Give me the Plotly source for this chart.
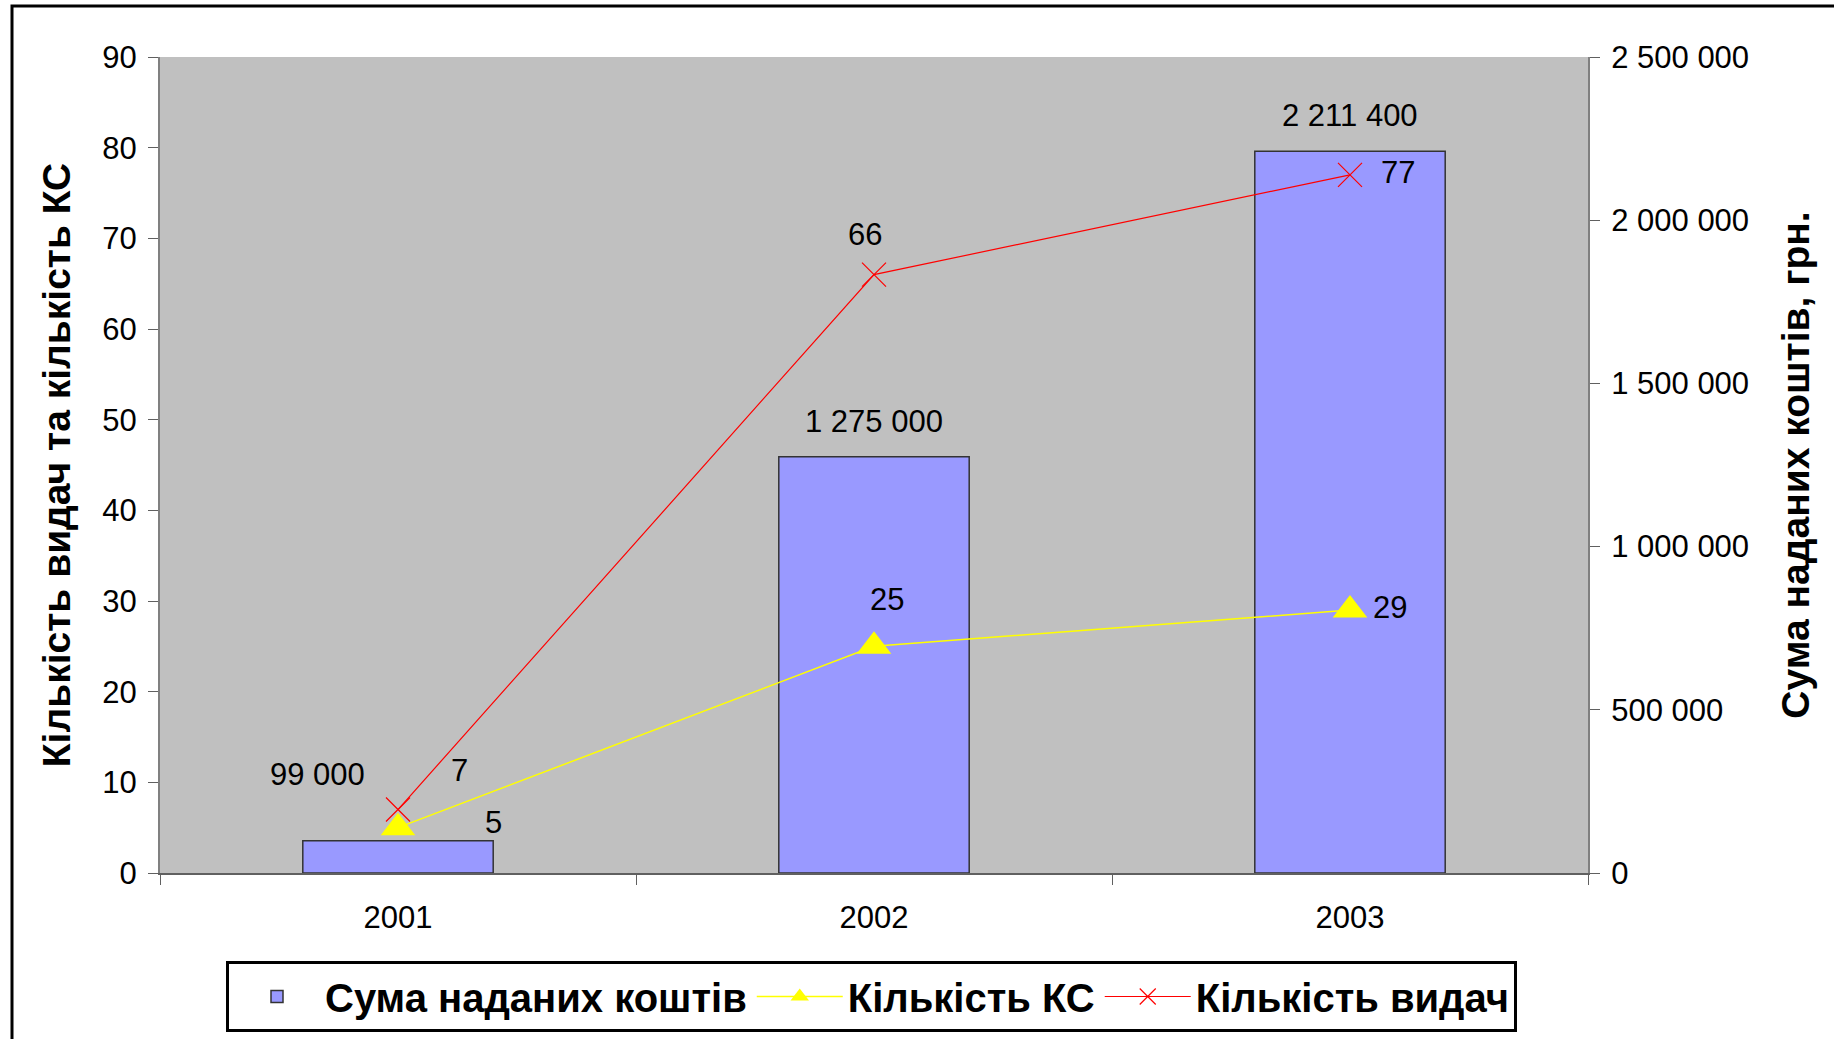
import plotly.graph_objects as go

years = ["2001", "2002", "2003"]
funds = [99000, 1275000, 2211400]          # Сума наданих коштів, грн.
ks_count = [5, 25, 29]                      # Кількість КС
issue_count = [7, 66, 77]                   # Кількість видач

series_names = ["Сума наданих коштів", "Кількість КС", "Кількість видач"]
left_title = "Кількість видач та кількість КС"
right_title = "Сума наданих коштів, грн."

W, H = 1834, 1039
L, R, T, B = 160, 1834 - 1588, 57, 1039 - 873

tick_font = dict(family="Liberation Sans, Arial, sans-serif", size=31, color="black")
bold_font = "Liberation Sans, Arial, sans-serif"

fig = go.Figure()
fig.add_trace(go.Bar(
    x=years, y=funds, name=series_names[0], yaxis="y",
    marker=dict(color="#9999FF", line=dict(color="#333333", width=1.5)),
))
fig.add_trace(go.Scatter(
    x=years, y=ks_count, name=series_names[1], yaxis="y2", mode="lines+markers",
    line=dict(color="#FFFF00", width=1.5),
    marker=dict(symbol="triangle-up", size=30, color="#FFFF00", line=dict(width=0)),
))
fig.add_trace(go.Scatter(
    x=years, y=issue_count, name=series_names[2], yaxis="y2", mode="lines+markers",
    line=dict(color="#FF0000", width=1.2),
    marker=dict(symbol="x-thin-open", size=24, color="#FF0000", line=dict(color="#FF0000", width=1.2)),
))

# data labels (offsets in px from each point)
bar_shifts = [(-81, 66), (0, 35), (0, 36)]
ks_shifts = [(95, 5), (13, 47), (40, 3)]
issue_shifts = [(61, 39), (-9, 40), (48, 2)]

def fmt(v):
    return f"{v:,}".replace(",", " ")

for i, (yv, (dx, dy)) in enumerate(zip(funds, bar_shifts)):
    fig.add_annotation(x=i, y=yv, xref="x", yref="y", text=fmt(yv), showarrow=False,
                       xshift=dx, yshift=dy, font=tick_font)
for i, (yv, (dx, dy)) in enumerate(zip(ks_count, ks_shifts)):
    fig.add_annotation(x=i, y=yv, xref="x", yref="y2", text=str(yv), showarrow=False,
                       xshift=dx, yshift=dy, font=tick_font)
for i, (yv, (dx, dy)) in enumerate(zip(issue_count, issue_shifts)):
    fig.add_annotation(x=i, y=yv, xref="x", yref="y2", text=str(yv), showarrow=False,
                       xshift=dx, yshift=dy, font=tick_font)

# outer frame (cropped at right and bottom as in the reference)
def px_x(p):
    return (p - L) / (W - L - R)
def px_y(p):
    return (H - B - p) / (H - T - B)

fig.add_shape(type="rect", xref="paper", yref="paper",
              x0=px_x(12), x1=px_x(1860), y0=px_y(6), y1=px_y(1080),
              line=dict(color="black", width=3), fillcolor="rgba(0,0,0,0)", layer="below")

fig.update_layout(
    width=W, height=H,
    margin=dict(l=L, r=R, t=T, b=B, autoexpand=False),
    paper_bgcolor="white", plot_bgcolor="#C0C0C0",
    separators=", ",
    bargap=0.6,
    showlegend=True,
    legend=dict(
        orientation="h", x=px_x(226), y=px_y(961), xanchor="left", yanchor="top",
        bgcolor="white", bordercolor="black", borderwidth=3,
        font=dict(family=bold_font, size=40, color="black", weight="bold"),
        itemwidth=86, tracegroupgap=0, itemsizing="trace",
    ),
    xaxis=dict(
        type="category", range=[-0.5, 2.5], showgrid=False, zeroline=False,
        showline=True, linecolor="#606060", linewidth=2,
        ticks="outside", ticklen=10, tickcolor="#606060", tickwidth=1,
        tickson="boundaries", tickfont=tick_font, ticklabelstandoff=16,
    ),
    yaxis=dict(
        side="right", range=[0, 2500000], dtick=500000, tickformat=",d",
        showgrid=False, zeroline=False, showline=True, linecolor="#808080", linewidth=2,
        ticks="outside", ticklen=10, tickcolor="#606060", tickwidth=1,
        tickfont=tick_font, ticklabelstandoff=5,
        title=dict(text=right_title, standoff=34,
                   font=dict(family=bold_font, size=39, color="black", weight="bold")),
    ),
    yaxis2=dict(
        overlaying="y", side="left", range=[0, 90], dtick=10,
        showgrid=False, zeroline=False, showline=True, linecolor="#808080", linewidth=2,
        ticks="outside", ticklen=10, tickcolor="#606060", tickwidth=1,
        tickfont=tick_font, ticklabelstandoff=5,
        title=dict(text=left_title, standoff=20,
                   font=dict(family=bold_font, size=39, color="black", weight="bold")),
    ),
)

fig.write_html("out.html", config={"displayModeBar": False},
               post_script="document.body.style.margin='0';")
